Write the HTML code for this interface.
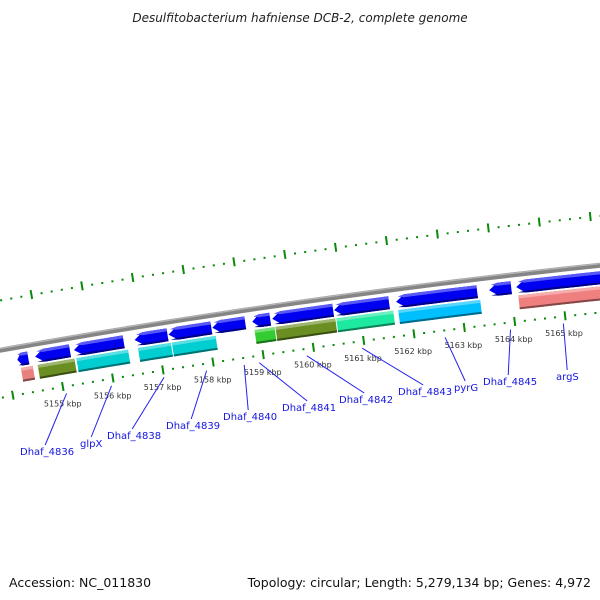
<!DOCTYPE html>
<html><head><meta charset="utf-8"><style>
html,body{margin:0;padding:0;background:#fff;}
svg{display:block;font-family:"DejaVu Sans","Liberation Sans",sans-serif;}
</style></head><body>
<svg id="c" width="600" height="600" viewBox="0 0 600 600">
<text x="300" y="22" text-anchor="middle" font-size="12" font-style="italic" fill="#222">Desulfitobacterium hafniense DCB-2, complete genome</text>
<text x="9" y="587" font-size="12.5" fill="#111">Accession: NC_011830</text>
<text x="591" y="587" text-anchor="end" font-size="12.5" fill="#111">Topology: circular; Length: 5,279,134 bp; Genes: 4,972</text>
<g id="layer"></g>
</svg>
<script>
// ---- data ----
const tickLabels = ["5155 kbp","5156 kbp","5157 kbp","5158 kbp","5159 kbp","5160 kbp","5161 kbp","5162 kbp","5163 kbp","5164 kbp","5165 kbp"];
const labeledKbp = [5155,5156,5157,5158,5159,5160,5161,5162,5163,5164,5165];
const row1Starts = [5154208,5154564,5155337,5156544,5157218,5158089,5158881,5159277,5160504,5161732,5163573,5164108];
const row1Ends   = [5154426,5155257,5156327,5157198,5158069,5158742,5159237,5160485,5161593,5163336,5164009,5166400];
const row2Starts = [5154248,5154584,5155356,5156584,5157257,5158901,5159316,5160524,5161752,5164128];
const row2Ends   = [5154485,5155317,5156386,5157237,5158128,5159297,5160504,5161653,5163375,5166400];
const row2Colors = ["#e88080","#6b8e23","#00ced1","#00ced1","#00ced1","#33cc33","#6b8e23","#1de9a0","#00bfff","#f08080"];
const geneNames = ["Dhaf_4836","glpX","Dhaf_4838","Dhaf_4839","Dhaf_4840","Dhaf_4841","Dhaf_4842","Dhaf_4843","pyrG","Dhaf_4845","argS"];
const geneBp = [5155050,5155950,5157000,5157850,5158600,5158900,5159850,5160950,5162600,5163900,5164950];
const labelX = [20,80,107,166,223,282,339,398,454,483,556];
const labelY = [455,447,439,429,420,411,403,395,391,385,380];

// ---- geometry ----
const cx=1482, cy=8651, R=8432;
const th0=-1.74086, k=0.0605/10000;
function th(bp){return th0+(bp-5155000)*k;}
function pt(bp,r){const t=th(bp);return [cx+r*Math.cos(t),cy+r*Math.sin(t)];}
const NS="http://www.w3.org/2000/svg";
const layer=document.getElementById('layer');
function mk(tag,attrs,parent){const e=document.createElementNS(NS,tag);for(const a in attrs)e.setAttribute(a,attrs[a]);(parent||layer).appendChild(e);return e;}
function arcPath(b0,b1,r){let d="";for(let i=0;i<=40;i++){const p=pt(b0+(b1-b0)*i/40,r);d+=(i?"L":"M")+p[0].toFixed(2)+","+p[1].toFixed(2);}return d;}
function poly(pts){return pts.map((p,i)=>(i?"L":"M")+p[0].toFixed(2)+","+p[1].toFixed(2)).join("")+"Z";}

// backbone
const bb=mk('path',{d:arcPath(5153500,5167500,R),stroke:"#858585","stroke-width":5,fill:"none"});


const bb2=mk('path',{d:arcPath(5153500,5167500,R+1.6),stroke:"#b5b5b5","stroke-width":1.3,fill:"none"});



// tick rings
function ring(rr,offset,name){
  const g=mk('g',{});
  
  
  for(let bp=5153000;bp<=5167000;bp+=200){
    const b=bp+offset;
    if((bp%1000)===0){
      const a=pt(b,rr-4),c=pt(b,rr+5);
      const t=mk('line',{x1:a[0],y1:a[1],x2:c[0],y2:c[1],stroke:"#0a8a0a","stroke-width":2},g);
      
      
    } else {
      const p=pt(b,rr);
      const d=mk('rect',{x:p[0]-1,y:p[1]-1,width:2,height:2,fill:"#0a8a0a"},g);
      
      
    }
  }
}
ring(R-47,0,'inner-tick-ring');
ring(R+49,700,'outer-tick-ring');

// tick labels
labeledKbp.forEach((kb,i)=>{
  const p=pt(kb*1000,R-64);
  const t=mk('text',{x:p[0]-3,y:p[1]+3,"text-anchor":"middle","font-size":8,fill:"#333"});
  t.textContent=tickLabels[i];
  
  
});

// genes
function bandPts(s,e,rOut,rIn,head){
  const n=10,pts=[];
  for(let j=0;j<=n;j++)pts.push(pt(s+head+(e-s-head)*j/n,rOut));
  for(let j=n;j>=0;j--)pts.push(pt(s+head+(e-s-head)*j/n,rIn));
  if(head>0)pts.push(pt(s,(rOut+rIn)/2));
  return pts;
}
function shade(col,f){const c=parseInt(col.slice(1),16);let r=c>>16,g=(c>>8)&255,b=c&255;
  if(f>0){r+= (255-r)*f;g+=(255-g)*f;b+=(255-b)*f;}else{r*=1+f;g*=1+f;b*=1+f;}
  return `rgb(${r|0},${g|0},${b|0})`;}
function gene(s,e,rOut,rIn,head,col,name){
  const g=mk('g',{});
  
  
  mk('path',{d:poly(bandPts(s,e,rOut,rIn,head)),fill:col},g);
  mk('path',{d:poly(bandPts(s+head*0.25,e,rOut,rOut-3,head*0.75)),fill:shade(col,0.35)},g);
  mk('path',{d:poly(bandPts(s+head*0.15,e,rIn+2,rIn,head*0.85)),fill:shade(col,-0.45)},g);
}
row1Starts.forEach((s,i)=>{
  const e=row1Ends[i];
  const head=Math.min(170,(e-s)*0.4);
  gene(s,e,R-6,R-19,head,"#0000f0",'reverse-gene-'+i);
});
row2Starts.forEach((s,i)=>{
  gene(s,row2Ends[i],R-21,R-35,0,row2Colors[i],'cog-gene-'+i);
});

// gene labels
geneNames.forEach((nm,i)=>{
  const a=pt(geneBp[i],R-54);
  const w=nm.length*5.6;
  const ex=labelX[i]+w/2, ey=labelY[i]-10;
  const ln=mk('line',{x1:a[0],y1:a[1],x2:ex,y2:ey,stroke:"#2222ee","stroke-width":1});
  
  
  const t=mk('text',{x:labelX[i],y:labelY[i],"font-size":10,fill:"#1515e0"});
  t.textContent=nm;
  
  
});
</script>
</body></html>
